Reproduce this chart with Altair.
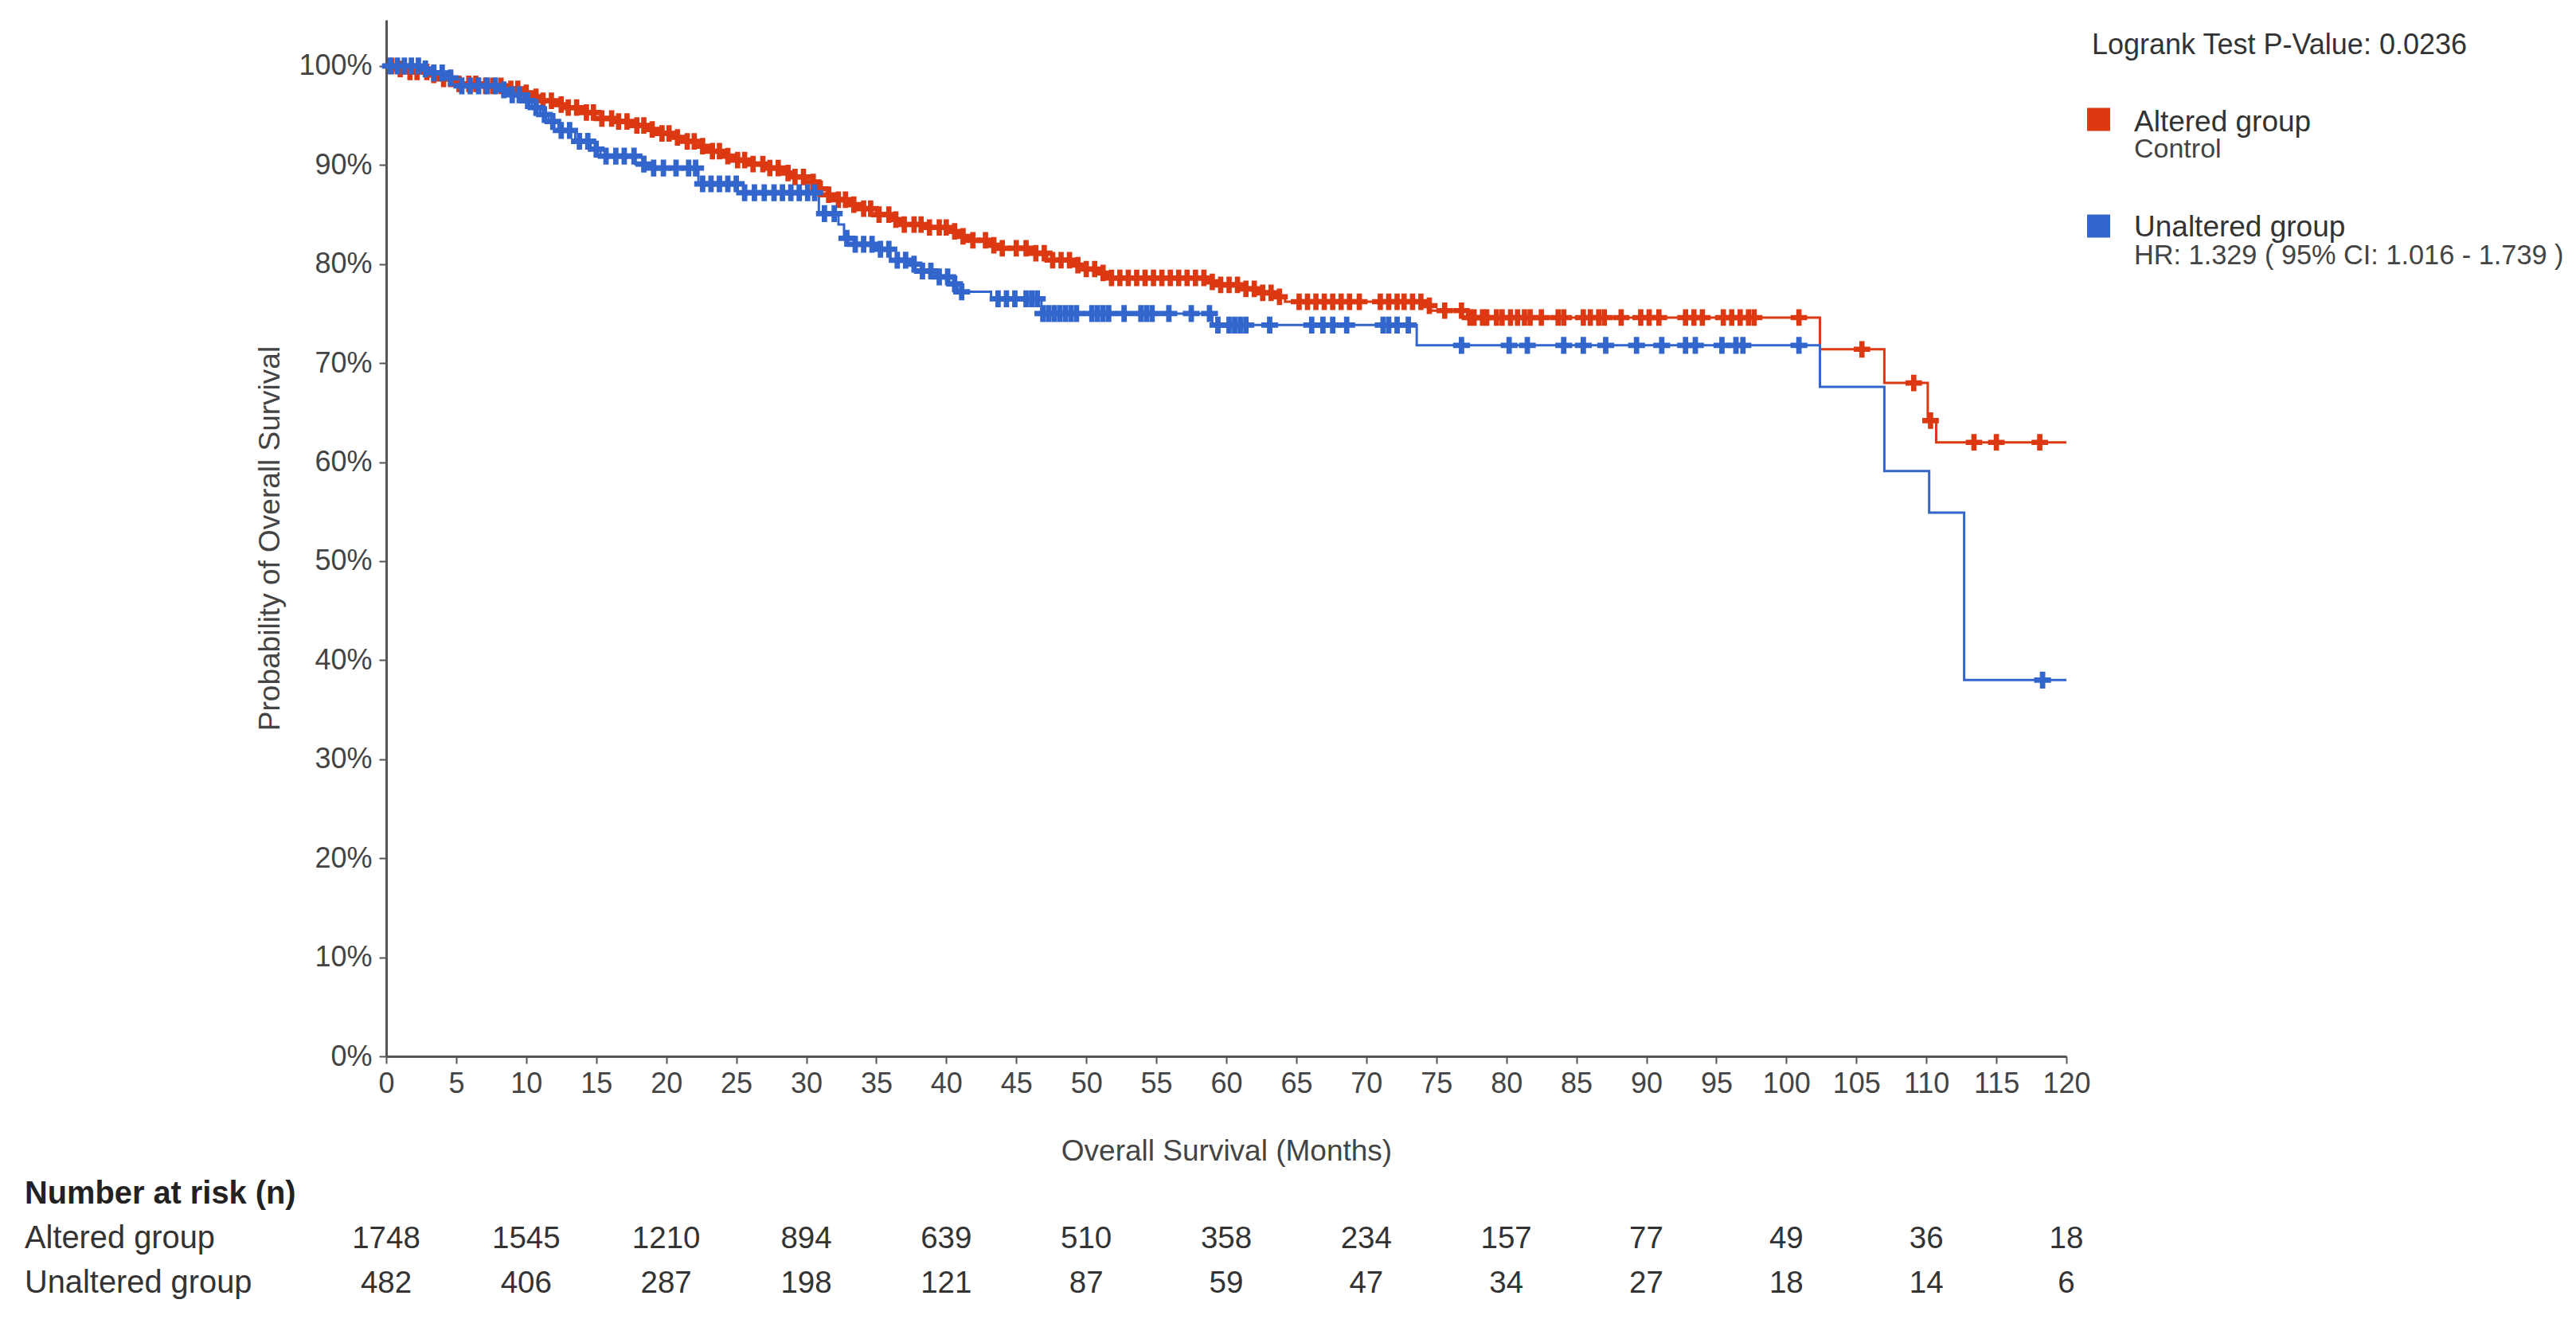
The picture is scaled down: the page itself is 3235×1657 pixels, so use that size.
import altair as alt
import numpy as np
import pandas as pd

FONT = "Liberation Sans"
RED = "#dc3912"
BLUE = "#3366cc"

# ---- Kaplan-Meier step curves (time in months, survival probability after step)
ALT_T = [0, 0.5, 1.5, 3.0, 4.0, 4.8, 6.5, 8.5, 9.7, 10.3, 10.9, 12.0, 13.0, 14.0, 14.9, 16.5,
         17.8, 18.5, 19.5, 20.5, 21.5, 22.5, 23.3, 24.2, 25.0, 26.0, 27.2, 28.3, 29.2, 30.0,
         30.8, 31.5, 32.3, 33.0, 34.0, 35.0, 36.0, 37.0, 38.8, 40.2, 41.0, 41.6, 43.0, 44.0,
         46.0, 47.2, 48.9, 50.0, 50.8, 51.3, 59.0, 59.5, 61.0, 62.5, 63.5, 64.2, 74.0, 74.6,
         77.2, 102.4, 107.0, 110.1, 110.7, 120.0]
ALT_S = [1.0, 0.997, 0.994, 0.991, 0.987, 0.982, 0.980, 0.977, 0.973, 0.969, 0.965, 0.961,
         0.958, 0.953, 0.947, 0.944, 0.940, 0.936, 0.932, 0.928, 0.924, 0.919, 0.914, 0.909,
         0.905, 0.901, 0.897, 0.892, 0.888, 0.883, 0.876, 0.870, 0.865, 0.860, 0.856, 0.850,
         0.845, 0.840, 0.837, 0.833, 0.828, 0.824, 0.819, 0.816, 0.811, 0.804, 0.799, 0.795,
         0.791, 0.786, 0.782, 0.779, 0.775, 0.771, 0.767, 0.762, 0.758, 0.753, 0.746, 0.714,
         0.680, 0.642, 0.620, 0.620]

UNALT_T = [0, 2.4, 3.3, 4.2, 5.3, 8.0, 9.0, 9.8, 10.4, 11.0, 11.6, 12.3, 13.5, 14.6, 15.3,
           17.8, 19.0, 22.3, 25.5, 30.9, 32.3, 32.7, 33.5, 35.0, 36.0, 37.3, 38.2, 39.2, 40.2,
           40.8, 43.2, 46.8, 59.0, 73.6, 102.4, 107.0, 110.2, 112.7, 120.0]
UNALT_S = [1.0, 0.997, 0.993, 0.988, 0.980, 0.976, 0.971, 0.965, 0.958, 0.951, 0.944, 0.935,
           0.924, 0.916, 0.909, 0.901, 0.897, 0.881, 0.872, 0.851, 0.840, 0.826, 0.820, 0.815,
           0.804, 0.800, 0.793, 0.787, 0.780, 0.772, 0.765, 0.750, 0.7385, 0.718, 0.676, 0.591,
           0.549, 0.380, 0.380]

# ---- censoring times (months)
ALT_CENS = [0.4, 1.0, 1.7, 2.2, 2.9, 3.4, 4.1, 4.6, 5.2, 5.9, 6.4, 7.1, 7.6, 8.2, 8.9, 9.4,
            10.0, 10.7, 11.2, 11.8, 12.5, 13.0, 13.6, 14.3, 14.8, 15.4, 16.1, 16.6, 17.2, 17.9,
            18.4, 19.0, 19.7, 20.2, 20.8, 21.5, 22.0, 22.6, 23.3, 23.8, 24.4, 25.1, 25.6, 26.2,
            26.9, 27.4, 28.0, 28.7, 29.2, 29.8, 30.5, 31.0, 31.6, 32.3, 32.8, 33.4, 34.1, 34.6,
            35.2, 35.9, 36.4, 37.0, 37.7, 38.2, 38.8, 39.5, 40.0, 40.6, 41.2, 41.9, 42.8, 43.4,
            44.0, 45.0, 45.7, 46.4, 47.0, 47.6, 48.2, 48.8, 49.4, 50.0, 50.6, 51.2, 51.8, 52.4,
            53.0, 53.6, 54.2, 54.8, 55.4, 56.0, 56.6, 57.2, 57.8, 58.4, 59.0, 59.6, 60.2, 60.8,
            61.4, 62.0, 62.6, 63.2, 63.8, 65.2, 65.8, 66.4, 67.0, 67.6, 68.2, 68.8, 69.5, 71.0,
            71.6, 72.2, 72.7, 73.3, 73.9, 74.5, 75.6, 76.8, 77.4, 77.7, 78.3, 78.6, 79.3, 79.7,
            80.3, 80.8, 81.3, 81.7, 82.5, 83.7, 84.1, 85.5, 86.0, 86.6, 87.0, 88.2, 89.6, 90.2,
            90.9, 92.8, 93.4, 94.0, 95.5, 96.1, 96.7, 97.3, 97.7, 100.9, 105.4, 109.1, 110.3,
            113.4, 115.0, 118.1]
UNALT_CENS = [0.3, 0.8, 1.3, 1.8, 2.3, 2.8, 3.4, 4.0, 4.6, 5.4, 6.0, 6.6, 7.2, 7.8, 8.4, 9.0,
              9.5, 10.1, 10.7, 11.3, 11.9, 12.5, 13.1, 13.8, 14.4, 15.0, 15.7, 16.4, 17.0, 17.7,
              18.4, 19.1, 19.8, 20.7, 21.6, 22.1, 22.6, 23.2, 23.8, 24.4, 25.0, 25.6, 26.3, 27.0,
              27.7, 28.3, 28.9, 29.5, 30.1, 30.6, 31.3, 32.0, 32.9, 33.5, 34.1, 34.7, 35.3, 35.9,
              36.5, 37.1, 37.7, 38.3, 38.9, 39.5, 40.1, 40.6, 41.1, 43.7, 44.3, 44.9, 45.7, 46.1,
              46.5, 46.9, 47.3, 47.7, 48.1, 48.5, 48.9, 49.3, 50.4, 50.8, 51.2, 51.6, 52.7, 53.9,
              54.3, 54.7, 55.9, 57.5, 58.8, 59.4, 60.2, 60.6, 61.0, 61.4, 63.1, 66.1, 66.9, 67.6,
              68.6, 71.2, 71.6, 72.2, 73.0, 76.8, 80.2, 81.5, 84.1, 85.5, 87.1, 89.3, 91.1, 92.8,
              93.5, 95.4, 96.4, 96.9, 100.9, 118.3]

# ---- number at risk table
RISK_TIMES = [0, 10, 20, 30, 40, 50, 60, 70, 80, 90, 100, 110, 120]
ALT_RISK = [1748, 1545, 1210, 894, 639, 510, 358, 234, 157, 77, 49, 36, 18]
UNALT_RISK = [482, 406, 287, 198, 121, 87, 59, 47, 34, 27, 18, 14, 6]

Y_TICKS = [0, 0.1, 0.2, 0.3, 0.4, 0.5, 0.6, 0.7, 0.8, 0.9, 1.0]
X_TICKS = list(range(0, 121, 5))

PLUS = "M-1,-0.32H-0.32V-1H0.32V-0.32H1V0.32H0.32V1H-0.32V0.32H-1Z"


def censor_frame(cens, steps_t, steps_s):
    idx = np.searchsorted(np.array(steps_t), np.array(cens), side="right") - 1
    return pd.DataFrame({"t": cens, "s": np.array(steps_s)[idx]})


alt_curve = pd.DataFrame({"t": ALT_T, "s": ALT_S})
unalt_curve = pd.DataFrame({"t": UNALT_T, "s": UNALT_S})
alt_cens = censor_frame(ALT_CENS, ALT_T, ALT_S)
unalt_cens = censor_frame(UNALT_CENS, UNALT_T, UNALT_S)

W, H = 2110, 1302
x_scale = alt.Scale(domain=[0, 120], nice=False, zero=False)
y_scale = alt.Scale(domain=[0, 1.0466], nice=False, zero=True)

x_axis = alt.Axis(
    values=X_TICKS, title="Overall Survival (Months)", labelAngle=0, labelFlush=False,
    labelOverlap=False, titleY=130, titleBaseline="alphabetic", labelPadding=8, grid=False)
y_axis = alt.Axis(
    values=Y_TICKS, format=".0%", title="Probability of Overall Survival",
    titleX=-135, titleY=H / 2, titleBaseline="alphabetic", labelPadding=9,
    labelOverlap=False, labelFlush=False, grid=False)
x_enc = alt.X("t:Q", scale=x_scale, axis=x_axis)
y_enc = alt.Y("s:Q", scale=y_scale, axis=y_axis)

line_alt = alt.Chart(alt_curve).mark_line(interpolate="step-after", color=RED, strokeWidth=3).encode(x=x_enc, y=y_enc)
line_unalt = alt.Chart(unalt_curve).mark_line(interpolate="step-after", color=BLUE, strokeWidth=3).encode(x=x_enc, y=y_enc)
pts_alt = alt.Chart(alt_cens).mark_point(shape=PLUS, filled=True, color=RED, size=430, opacity=1, strokeWidth=0).encode(x=x_enc, y=y_enc)
pts_unalt = alt.Chart(unalt_cens).mark_point(shape=PLUS, filled=True, color=BLUE, size=450, opacity=1, strokeWidth=0).encode(x=x_enc, y=y_enc)


def label(text, x, y, size, color="#333", weight="normal", align="left"):
    return alt.Chart(pd.DataFrame({"txt": [text]})).mark_text(
        align=align, baseline="alphabetic", font=FONT, fontSize=size, color=color,
        fontWeight=weight).encode(x=alt.value(x), y=alt.value(y), text="txt:N")


def square(name, color, y):
    return alt.Chart(pd.DataFrame({"g": [name]})).mark_square(
        size=841, filled=True, opacity=1, color=color).encode(x=alt.value(2150.5), y=alt.value(y))


texts = [
    label("Logrank Test P-Value: 0.0236", 2142, 43, 36),
    label("Altered group", 2195, 140, 37),
    label("Control", 2195, 173, 34, color="#444"),
    label("Unaltered group", 2195, 272, 37),
    label("HR: 1.329 ( 95% CI: 1.016 - 1.739 )", 2195, 307, 34.3, color="#444"),
    label("Number at risk (n)", -454, 1487, 39.8, color="#222", weight="bold"),
    label("Altered group", -454, 1543, 39.8),
    label("Unaltered group", -454, 1599, 39.8),
]

risk_alt = alt.Chart(pd.DataFrame({"t": RISK_TIMES, "n": ALT_RISK})).mark_text(
    align="center", baseline="alphabetic", font=FONT, fontSize=38.5, color="#333").encode(
    x=x_enc, y=alt.value(1543), text="n:Q")
risk_unalt = alt.Chart(pd.DataFrame({"t": RISK_TIMES, "n": UNALT_RISK})).mark_text(
    align="center", baseline="alphabetic", font=FONT, fontSize=38.5, color="#333").encode(
    x=x_enc, y=alt.value(1599), text="n:Q")

chart = alt.layer(
    line_alt, line_unalt, pts_alt, pts_unalt,
    square("Altered group", RED, 125), square("Unaltered group", BLUE, 259),
    *texts, risk_alt, risk_unalt,
).properties(
    width=W, height=H,
    background="white",
    padding={"left": 485, "top": 25, "right": 640, "bottom": 330},
    autosize=alt.AutoSizeParams(type="none"),
).configure_view(strokeWidth=0).configure_axis(
    domainColor="#555", domainWidth=3, tickColor="#555", tickWidth=2, tickSize=9,
    labelFont=FONT, labelFontSize=36, labelColor="#444",
    titleFont=FONT, titleFontSize=37, titleFontWeight="normal", titleColor="#444", grid=False,
)

chart.save("out.html", embed_options={"renderer": "svg", "actions": False})
